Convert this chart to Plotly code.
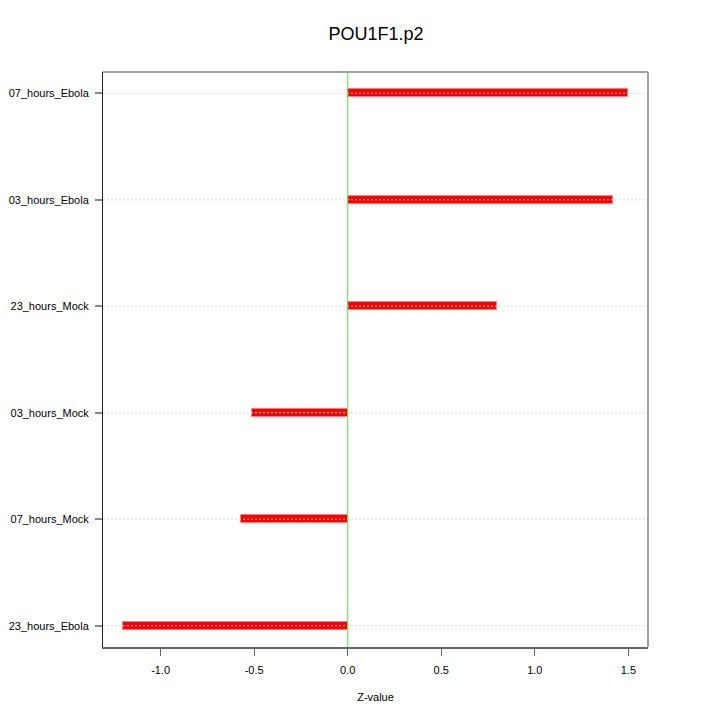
import plotly.graph_objects as go

categories = ["23_hours_Ebola", "07_hours_Mock", "03_hours_Mock", "23_hours_Mock", "03_hours_Ebola", "07_hours_Ebola"]
zvalues = [-1.20, -0.573, -0.511, 0.798, 1.417, 1.497]
positions = [1, 2, 3, 4, 5, 6]
xticks = [-1.0, -0.5, 0.0, 0.5, 1.0, 1.5]
xticklabels = ["-1.0", "-0.5", "0.0", "0.5", "1.0", "1.5"]

FONT = "Liberation Sans, Arial, Helvetica, sans-serif"

fig = go.Figure()
fig.add_trace(go.Bar(
    x=zvalues, y=positions, orientation="h", width=0.075,
    marker=dict(color="#ff0000", line=dict(color="#ff8080", width=1)),
    hoverinfo="x+y", showlegend=False,
))

# dotted gridlines drawn above bars
for p in positions:
    fig.add_shape(type="line", xref="paper", x0=0, x1=1, yref="y", y0=p, y1=p,
                  line=dict(color="#dcdcdc", width=1, dash="2px,2px"), layer="above")
# zero line
fig.add_shape(type="line", xref="x", x0=0, x1=0, yref="paper", y0=0, y1=1,
              line=dict(color="#4ce64c", width=1), layer="above")
# top & right frame
fig.add_shape(type="line", xref="paper", yref="paper", x0=0, x1=1, y0=1, y1=1,
              line=dict(color="#a0a0a0", width=2), layer="above")
fig.add_shape(type="line", xref="paper", yref="paper", x0=1, x1=1, y0=0, y1=1,
              line=dict(color="#a0a0a0", width=2), layer="above")

fig.update_layout(
    width=720, height=720,
    margin=dict(l=95, r=80, t=64, b=81, autoexpand=False),
    paper_bgcolor="white", plot_bgcolor="white",
    font=dict(family=FONT, size=11, color="black"),
    title=dict(text="POU1F1.p2", x=368 / 720, xanchor="center",
               y=1 - 26 / 720, yanchor="middle", automargin=False,
               font=dict(family=FONT, size=18, color="black")),
    bargap=0,
    xaxis=dict(range=[-1.308, 1.605], tickvals=xticks, ticktext=xticklabels,
               showgrid=False, zeroline=False, showline=True, linecolor="#666666", linewidth=2,
               ticks="outside", ticklen=7, tickcolor="#666666", tickwidth=1,
               ticklabelstandoff=5,
               title=dict(text="Z-value", font=dict(size=11), standoff=18),
               tickfont=dict(size=11), automargin=False),
    yaxis=dict(range=[0.8, 6.2], tickvals=positions, ticktext=categories,
               showgrid=False, zeroline=False, showline=True, linecolor="#222222", linewidth=1,
               ticks="outside", ticklen=7, tickcolor="#888888", tickwidth=2,
               ticklabelstandoff=4,
               tickfont=dict(size=11), automargin=False),
)

fig.write_html("out.html")
